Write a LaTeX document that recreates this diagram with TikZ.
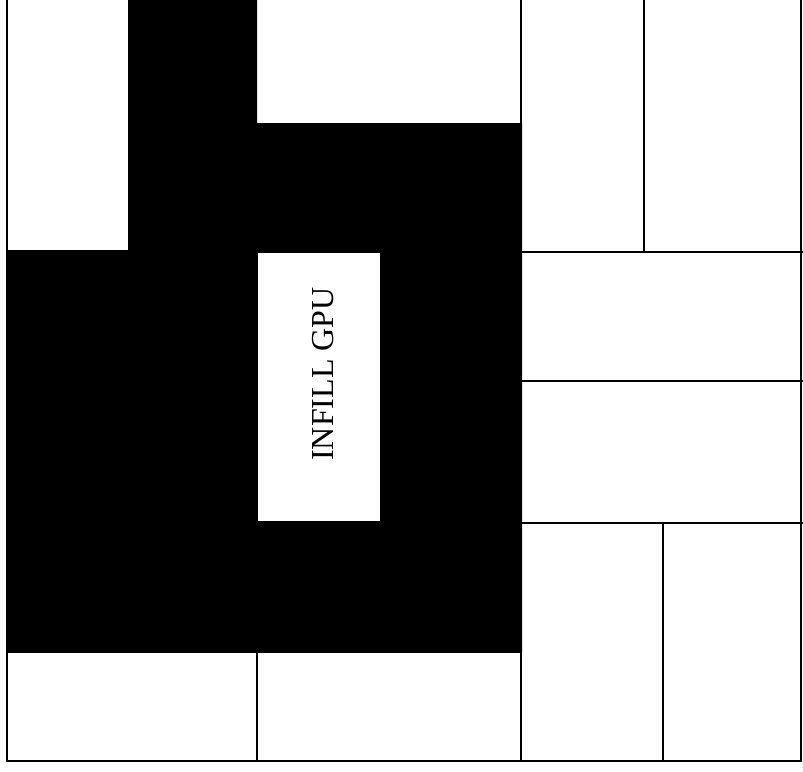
\documentclass[tikz,border=0pt]{standalone}
\usepackage{fontspec}
\setmainfont{Liberation Serif}
\begin{document}
\begin{tikzpicture}[
    x=1pt, y=-1pt,
    wall/.style={draw=black, line width=2.6pt, line cap=rect},
    infill/.style={fill=black},
    label/.style={fill=white, inner sep=0pt, minimum width=122pt, minimum height=268pt,
        font=\fontsize{32}{36}\selectfont}
]
  \useasboundingbox (0,0) rectangle (803,771);

  % Solid infill region
  \fill[infill] (128,0) -- (257,0) -- (257,123) -- (522,123) -- (522,652)
      -- (7,652) -- (7,250) -- (128,250) -- cycle;

  % Opening with the label
  \node[label] (gpu) at (319,387) {};
  \node[rotate=90, font=\fontsize{32}{36}\selectfont] (gputext) at (323,374) {INFILL GPU};

  % Outer walls
  \draw[wall] (7,0) -- (7,761) -- (801,761) -- (801,0);

  % Partitions
  \draw[wall] (521,0) -- (521,761);
  \draw[wall] (644,0) -- (644,252);
  \draw[wall] (521,252) -- (803,252);
  \draw[wall] (521,381) -- (803,381);
  \draw[wall] (521,523) -- (803,523);
  \draw[wall] (663,523) -- (663,761);
  \draw[wall] (257,652) -- (257,761);
  \draw[wall] (7,652) -- (521,652);
\end{tikzpicture}
\end{document}
